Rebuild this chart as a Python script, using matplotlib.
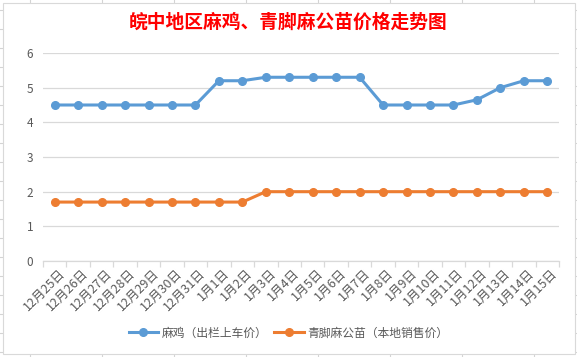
import matplotlib
matplotlib.use("Agg")
import matplotlib.pyplot as plt
from matplotlib.lines import Line2D
from matplotlib.patches import Rectangle

plt.rcParams['font.family'] = ['Noto Sans CJK SC', 'DejaVu Sans']

# Data
dates = ["12月25日", "12月26日", "12月27日", "12月28日", "12月29日", "12月30日", "12月31日",
         "1月1日", "1月2日", "1月3日", "1月4日", "1月5日", "1月6日", "1月7日", "1月8日",
         "1月9日", "1月10日", "1月11日", "1月12日", "1月13日", "1月14日", "1月15日"]
maji = [4.5, 4.5, 4.5, 4.5, 4.5, 4.5, 4.5,
        5.2, 5.2, 5.3, 5.3, 5.3, 5.3, 5.3, 4.5,
        4.5, 4.5, 4.5, 4.65, 5.0, 5.2, 5.2]
qingjiao = [1.7, 1.7, 1.7, 1.7, 1.7, 1.7, 1.7,
            1.7, 1.7, 2.0, 2.0, 2.0, 2.0, 2.0, 2.0,
            2.0, 2.0, 2.0, 2.0, 2.0, 2.0, 2.0]
yticks = [0, 1, 2, 3, 4, 5, 6]

W, H = 577, 357
fig = plt.figure(figsize=(W / 100, H / 100), dpi=100, facecolor='white')

# spreadsheet grid behind the chart
for x in range(30, W, 72):
    fig.add_artist(Line2D([x / W, x / W], [0, 1], color='#d4d4d4', lw=0.8, zorder=0))
for y in range(10, H, 19):
    fig.add_artist(Line2D([0, 1], [1 - y / H, 1 - y / H], color='#d4d4d4', lw=0.8, zorder=0))
# chart area
fig.add_artist(Rectangle((3 / W, 1 - 354 / H), 572 / W, 351 / H, facecolor='white',
                         edgecolor='#d9d9d9', lw=0.8, zorder=0.5))

ax = fig.add_axes([43 / W, 1 - 261 / H, 516 / W, 208 / H])
ax.set_facecolor('none')
ax.set_zorder(1)

x = list(range(len(dates)))
ax.plot(x, maji, color='#5B9BD5', lw=2.2, marker='o', ms=5.5, label='麻鸡（出栏上车价）', zorder=3)
ax.plot(x, qingjiao, color='#ED7D31', lw=2.2, marker='o', ms=5.5, label='青脚麻公苗（本地销售价）', zorder=3)

ax.set_xlim(-0.5, len(dates) - 0.5)
ax.set_ylim(0, 6)
ax.set_yticks(yticks)
ax.set_yticklabels([str(v) for v in yticks], color='#595959', fontsize=8.5)
ax.tick_params(axis='y', length=0, pad=7)
ax.grid(axis='y', color='#d9d9d9', lw=0.9)
ax.set_axisbelow(True)

for s in ['top', 'right', 'left']:
    ax.spines[s].set_visible(False)
ax.spines['bottom'].set_color('#d9d9d9')
ax.spines['bottom'].set_linewidth(0.9)

# category labels at centers, tick marks at boundaries
ax.set_xticks([i - 0.5 for i in range(len(dates) + 1)])
ax.set_xticklabels([])
ax.tick_params(axis='x', length=4, color='#d9d9d9', width=0.9)
for i, d in enumerate(dates):
    ax.text(i + 0.35, -0.3, d, rotation=45, ha='right', va='center', rotation_mode='anchor',
            fontsize=9, color='#595959')

fig.text(0.5, 1 - 22 / H, '皖中地区麻鸡、青脚麻公苗价格走势图', ha='center', va='center',
         fontsize=13.5, color='red', fontweight='bold')

leg = fig.legend(loc='center', bbox_to_anchor=(0.5, 1 - 333 / H), ncol=2, frameon=False,
                 fontsize=8.5, handlelength=2.5, columnspacing=0.6, handletextpad=0.3)
for t in leg.get_texts():
    t.set_color('#595959')

fig.savefig('out.png', dpi=100, facecolor='white')
